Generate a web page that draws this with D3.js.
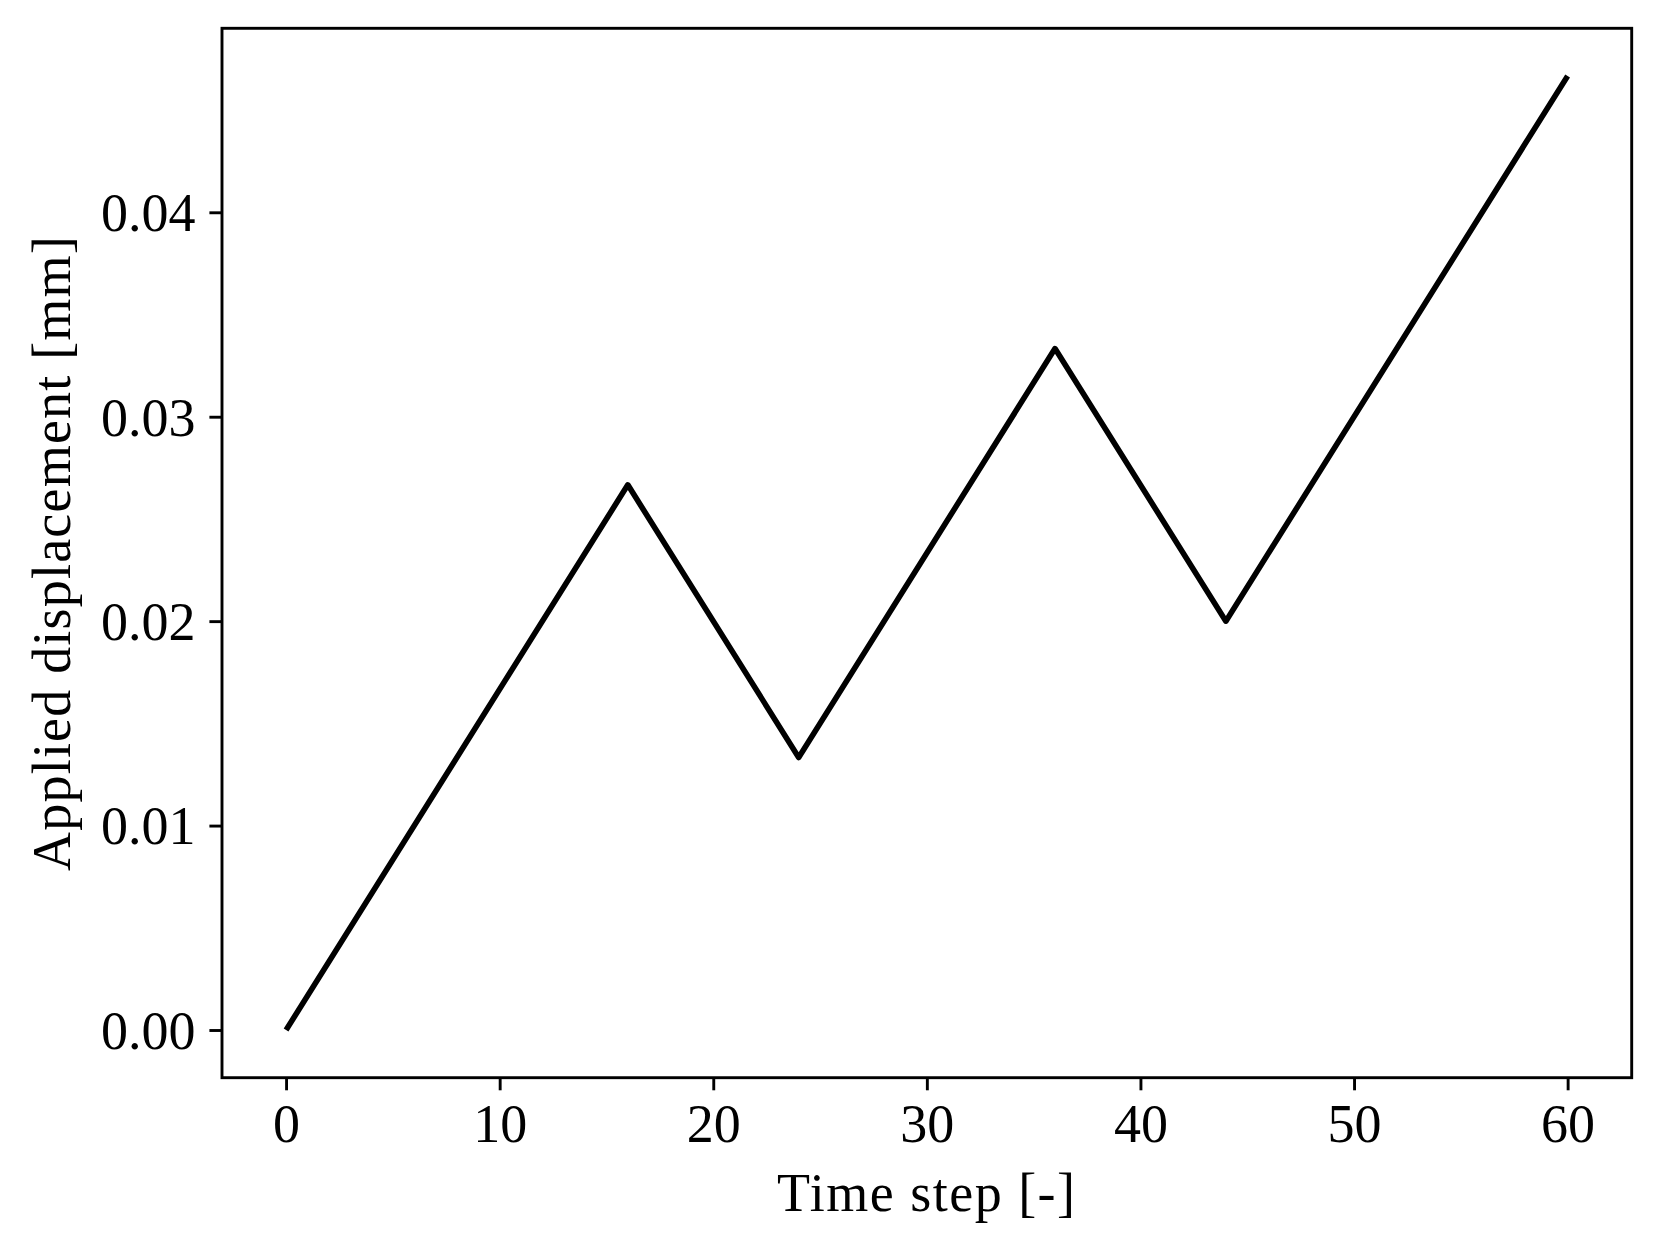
<!DOCTYPE html>
<html>
<head>
<meta charset="utf-8">
<script src="https://cdn.jsdelivr.net/npm/d3@7"></script>
<style>
  body { margin: 0; background: #fff; }
  text { font-family: "Liberation Serif", "DejaVu Serif", serif; fill: #000; }
</style>
</head>
<body>
<div id="chart"></div>
<script>
// data: load path vertices
const timeSteps = [0, 16, 24, 36, 44, 60];
const displacement = [0, 0.026667, 0.013333, 0.033333, 0.02, 0.046667];
const xTicks = [0, 10, 20, 30, 40, 50, 60];
const yTicks = [0, 0.01, 0.02, 0.03, 0.04];

//sizing
const width = 1660;
const height = 1254;
const margin = {top: 28.3, right: 28.3, bottom: 176.3, left: 222};
const innerW = width - margin.left - margin.right;
const innerH = height - margin.top - margin.bottom;

const svg = d3.select("#chart")
    .append("svg")
    .attr("width", width)
    .attr("height", height);

const g = svg.append("g")
    .attr("transform", `translate(${margin.left},${margin.top})`);

const x = d3.scaleLinear().domain([-3, 63]).range([0, innerW]);
const y = d3.scaleLinear().domain([-0.002333, 0.049]).range([innerH, 0]);

const fontSize = 54;
const tickLen = 12.6;

//x axis
const xAxis = g.append("g")
    .attr("transform", `translate(0,${innerH})`)
    .call(d3.axisBottom(x).tickValues(xTicks).tickSize(tickLen).tickPadding(12).tickFormat(d3.format("d")));
xAxis.select(".domain").remove();
xAxis.selectAll("line").attr("stroke", "#000").attr("stroke-width", 2.9);
xAxis.selectAll("text")
    .style("font-size", fontSize + "px")
    .attr("dy", "0.74em");

//y axis
const yAxis = g.append("g")
    .call(d3.axisLeft(y).tickValues(yTicks).tickSize(tickLen).tickPadding(14).tickFormat(d3.format(".2f")));
yAxis.select(".domain").remove();
yAxis.selectAll("line").attr("stroke", "#000").attr("stroke-width", 2.9);
yAxis.selectAll("text")
    .style("font-size", fontSize + "px")
    .attr("dy", "0.34em");

//the line
const line = d3.line()
    .x((d, i) => x(timeSteps[i]))
    .y(d => y(d));

g.append("path")
    .datum(displacement)
    .attr("d", line)
    .attr("fill", "none")
    .attr("stroke", "#000")
    .attr("stroke-width", 5.6)
    .attr("stroke-linejoin", "round")
    .attr("stroke-linecap", "butt");

//frame
g.append("rect")
    .attr("width", innerW)
    .attr("height", innerH)
    .attr("fill", "none")
    .attr("stroke", "#000")
    .attr("stroke-width", 2.9);

//labels
svg.append("text")
    .attr("x", margin.left + innerW / 2)
    .attr("y", 1211)
    .attr("text-anchor", "middle")
    .style("font-size", fontSize + "px")
    .style("letter-spacing", "1.5px")
    .text("Time step [-]");

svg.append("text")
    .attr("transform", `translate(70,${margin.top + innerH / 2}) rotate(-90)`)
    .attr("text-anchor", "middle")
    .style("font-size", fontSize + "px")
    .style("letter-spacing", "1.2px")
    .text("Applied displacement [mm]");
</script>
</body>
</html>
